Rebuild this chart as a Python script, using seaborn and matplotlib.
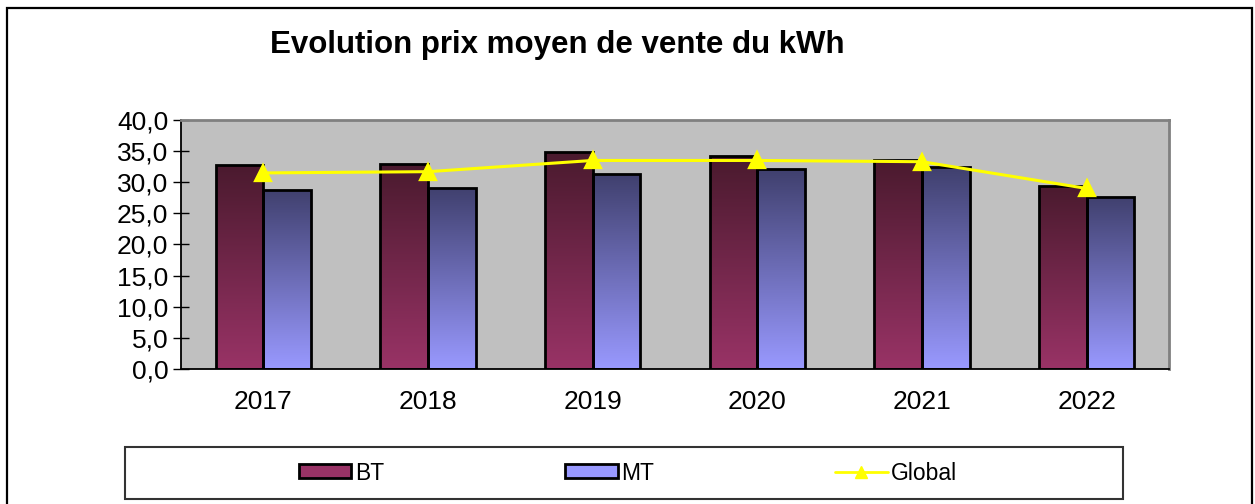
import numpy as np
import pandas as pd
import matplotlib.pyplot as plt
import seaborn as sns
from matplotlib.patches import Patch, Rectangle
from matplotlib.lines import Line2D
from matplotlib.colors import LinearSegmentedColormap
from matplotlib.ticker import FixedLocator, FuncFormatter

# data
years = ['2017', '2018', '2019', '2020', '2021', '2022']
bt = [32.8, 33.0, 34.8, 34.2, 33.6, 29.4]
mt = [28.8, 29.1, 31.3, 32.1, 32.4, 27.7]
glob = [31.5, 31.7, 33.5, 33.5, 33.3, 29.0]

df = pd.DataFrame({
    'Année': years * 2,
    'Prix': bt + mt,
    'Type': ['BT'] * len(years) + ['MT'] * len(years),
})

sns.set_style('white')
plt.rcParams['font.family'] = ['Liberation Sans', 'DejaVu Sans']
plt.rcParams['text.color'] = 'black'
plt.rcParams['xtick.color'] = 'black'
plt.rcParams['ytick.color'] = 'black'

W, H = 1255, 504
fig = plt.figure(figsize=(W / 100, H / 100), dpi=100)
ax = fig.add_axes([181 / W, 1 - 369 / H, (1169 - 181) / W, (369 - 120) / H])
ax.set_facecolor('#c0c0c0')

sns.barplot(data=df, x='Année', y='Prix', hue='Type',
            palette={'BT': '#993366', 'MT': '#9999ff'},
            width=0.58, edgecolor='black', linewidth=2, legend=False, ax=ax)

# Excel-like vertical gradient (dark top, light bottom) in each bar
cmaps = {
    'BT': LinearSegmentedColormap.from_list('bt', ['#993366', '#4a1a2e']),
    'MT': LinearSegmentedColormap.from_list('mt', ['#9999ff', '#40406e']),
}
grad = np.linspace(0, 1, 256).reshape(-1, 1)
bars = [p for p in ax.patches if p.get_height() > 0]
for i, bar in enumerate(bars):
    key = 'BT' if i < len(years) else 'MT'
    x0, w, h = bar.get_x(), bar.get_width(), bar.get_height()
    im = ax.imshow(grad, cmap=cmaps[key], origin='lower', aspect='auto',
                   extent=[x0, x0 + w, 0, h], zorder=bar.get_zorder() - 0.1)
    im.set_clip_path(bar)
    bar.set_facecolor('none')

sns.pointplot(x=years, y=glob, color='#ffff00', markers='^', markersize=11,
              linewidth=2.2, ax=ax, zorder=10)

ax.set_xlim(-0.5, len(years) - 0.5)
ax.set_ylim(0, 40)
ax.set_xlabel('')
ax.set_ylabel('')
ax.set_yticks(np.arange(0, 41, 5))
ax.yaxis.set_major_formatter(FuncFormatter(lambda v, p: f'{v:.1f}'.replace('.', ',')))
ax.xaxis.set_minor_locator(FixedLocator(np.arange(-0.5, len(years), 1)))
ax.tick_params(axis='x', which='major', length=0, pad=15, labelsize=19)
ax.tick_params(axis='x', which='minor', direction='inout', length=12, width=1, color='black')
ax.tick_params(axis='y', direction='inout', length=12, width=1, color='black',
               pad=3, labelsize=19, left=True)

for side in ['left', 'bottom']:
    ax.spines[side].set_color('black')
    ax.spines[side].set_linewidth(1.3)
for side in ['top', 'right']:
    ax.spines[side].set_visible(True)
    ax.spines[side].set_color('#808080')
    ax.spines[side].set_linewidth(2)

fig.text(557 / W, 1 - 45 / H, 'Evolution prix moyen de vente du kWh',
         ha='center', va='center', fontsize=22.5, fontweight='bold', color='black')

# outer frame of the chart
fig.patches.append(Rectangle((7 / W, -0.05), (1252 - 7) / W, 1.05 - 8 / H,
                             transform=fig.transFigure, fill=False,
                             edgecolor='black', linewidth=1.6))
# legend frame
fig.patches.append(Rectangle((125 / W, 1 - 499 / H), (1123 - 125) / W, 52 / H,
                             transform=fig.transFigure, fill=False,
                             edgecolor='#333333', linewidth=1.5))

handles = [
    Patch(facecolor='#993366', edgecolor='black', linewidth=2, label='BT'),
    Patch(facecolor='#9999ff', edgecolor='black', linewidth=2, label='MT'),
    Line2D([], [], color='#ffff00', marker='^', markersize=9, linewidth=2, label='Global'),
]
fig.legend(handles=handles, loc='center', ncol=3, frameon=False,
           bbox_to_anchor=(628 / W, 1 - 473 / H), fontsize=16.5,
           handlelength=2.3, handleheight=0.55, handletextpad=0.15,
           columnspacing=7.9)

fig.savefig('out.png', dpi=100)
